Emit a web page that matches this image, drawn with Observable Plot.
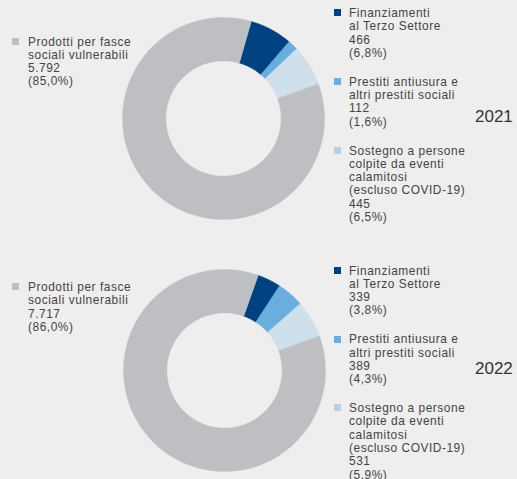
<!DOCTYPE html>
<html><head><meta charset="utf-8">
<script src="https://cdn.jsdelivr.net/npm/d3@7"></script>
<script src="https://cdn.jsdelivr.net/npm/@observablehq/plot@0.6"></script>
<style>
body{margin:0;background:#eeeeee;}
#chart{position:relative;width:517px;height:479px;background:#eeeeee;font-family:"Liberation Sans",Arial,sans-serif;color:#444;overflow:hidden}
.leg{position:absolute;font-size:11.9px;line-height:13.3px;letter-spacing:0.55px;white-space:nowrap}
.item{position:relative;margin-bottom:15.6px}
.ln{height:13.3px}
.sw{position:absolute;width:7px;height:7px;top:2.4px}
.year{position:absolute;font-size:17px;line-height:17px;color:#333}
.donut{position:absolute}
</style>
</head><body>
<div id="chart"></div>
<script>
const years = ["2021", "2022"];
const categories = [
  ["Finanziamenti", "al Terzo Settore"],
  ["Prestiti antiusura e", "altri prestiti sociali"],
  ["Sostegno a persone", "colpite da eventi", "calamitosi", "(escluso COVID-19)"],
  ["Prodotti per fasce", "sociali vulnerabili"]
];
const values2021 = [466, 112, 445, 5792];
const values2022 = [339, 389, 531, 7717];
const shares2021 = [6.8, 1.6, 6.5, 85.0];
const shares2022 = [3.8, 4.3, 5.9, 86.0];
const colors = ["#00427f", "#6aaee0", "#cde0ec", "#bebfc2"];
const swatchColors = ["#00427f", "#6aaee0", "#b8d0e1", "#bebfc2"];

const layout = [
  {donutLeft: 121, donutTop: 15.5, leftTop: 35.5, rightTop: 7, yearTop: 107.7},
  {donutLeft: 122, donutTop: 267.5, leftTop: 281, rightTop: 264.5, yearTop: 359.7}
];

const it = d3.formatLocale({decimal: ",", thousands: ".", grouping: [3], currency: ["", "€"]});
const fmtN = it.format(",d");
const fmtP = it.format(",.1f");

function donut(values) {
  const total = d3.sum(values);
  const smallFrac = d3.sum(values.slice(0, 3)) / total;
  const end = 70 * Math.PI / 180;
  const start = end - smallFrac * 2 * Math.PI;
  const arcs = d3.pie().sort(null).startAngle(start).endAngle(start + 2 * Math.PI)(values);
  const R = 1, r = 0.57;
  const marks = arcs.map((a, i) => {
    const n = Math.max(2, Math.ceil((a.endAngle - a.startAngle) / (Math.PI / 360)));
    const pts = [];
    for (let k = 0; k <= n; k++) {
      const t = a.startAngle + (a.endAngle - a.startAngle) * k / n;
      pts.push({x: R * Math.sin(t), y: R * Math.cos(t)});
    }
    for (let k = n; k >= 0; k--) {
      const t = a.startAngle + (a.endAngle - a.startAngle) * k / n;
      pts.push({x: r * Math.sin(t), y: r * Math.cos(t)});
    }
    return Plot.line(pts, {x: "x", y: "y", fill: colors[i], stroke: colors[i], strokeWidth: 0.4, curve: "linear-closed"});
  });
  return Plot.plot({
    width: 204, height: 204, margin: 1,
    x: {domain: [-1, 1], axis: null},
    y: {domain: [-1, 1], axis: null},
    style: {background: "transparent", overflow: "visible"},
    marks
  });
}

const chart = document.getElementById("chart");
const allValues = [values2021, values2022];
const allShares = [shares2021, shares2022];

function itemHTML(i, values, shares, txX) {
  const lines = [...categories[i], fmtN(values[i]), "(" + fmtP(shares[i]) + "%)"];
  return `<div class="item"><div class="sw" style="left:0px;background:${swatchColors[i]}"></div>` +
    `<div style="margin-left:${txX}px">${lines.map(l => `<div class="ln">${l}</div>`).join("")}</div></div>`;
}

years.forEach((yr, j) => {
  const L = layout[j];
  const values = allValues[j], shares = allShares[j];
  const svg = donut(values);
  svg.classList.add("donut");
  svg.style.left = L.donutLeft + "px";
  svg.style.top = L.donutTop + "px";
  chart.appendChild(svg);

  const left = document.createElement("div");
  left.className = "leg";
  left.style.left = "12px";
  left.style.top = L.leftTop + "px";
  left.innerHTML = itemHTML(3, values, shares, 16);
  chart.appendChild(left);

  const right = document.createElement("div");
  right.className = "leg";
  right.style.left = "334px";
  right.style.top = L.rightTop + "px";
  right.innerHTML = [0, 1, 2].map(i => itemHTML(i, values, shares, 15)).join("");
  chart.appendChild(right);

  const y = document.createElement("div");
  y.className = "year";
  y.style.left = "475px";
  y.style.top = L.yearTop + "px";
  y.textContent = yr;
  chart.appendChild(y);
});
</script>
</body></html>
